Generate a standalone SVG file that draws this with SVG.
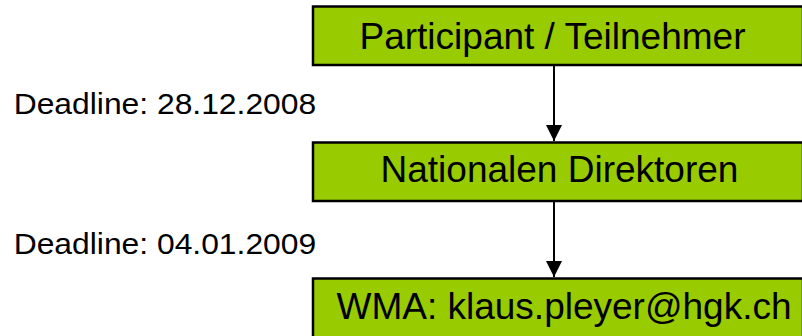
<svg xmlns="http://www.w3.org/2000/svg" width="802" height="336" viewBox="0 0 802 336">
<defs>
<style>
.box{fill:#99cc00;stroke:#000;stroke-width:2.5}
.lbl{font-family:"Liberation Sans",Arial,sans-serif;font-size:37px;fill:#000}
.dl{font-family:"Liberation Sans",Arial,sans-serif;font-size:30px;fill:#000}
.conn{stroke:#000;stroke-width:2;fill:none}
</style>
<marker id="arr" markerWidth="16" markerHeight="16" refX="16" refY="8" orient="auto" markerUnits="userSpaceOnUse">
<path d="M0,0 L16,8 L0,16 Z" fill="#000"/>
</marker>
</defs>
<rect width="802" height="336" fill="#fff"/>
<g id="participant">
<rect class="box" x="313" y="6.5" width="490" height="58.5"/>
<text class="lbl" x="359.5" y="49">Participant / Teilnehmer</text>
</g>
<g id="direktoren">
<rect class="box" x="313" y="142.5" width="490" height="58.5"/>
<text class="lbl" x="380.5" y="182">Nationalen Direktoren</text>
</g>
<g id="wma">
<rect class="box" x="313" y="278.5" width="490" height="70"/>
<text class="lbl" x="336.5" y="319">WMA: klaus.pleyer@hgk.ch</text>
</g>
<g id="deadlines">
<text class="dl" x="13.7" y="114.3" textLength="302.5" lengthAdjust="spacingAndGlyphs">Deadline: 28.12.2008</text>
<text class="dl" x="13.7" y="254.3" textLength="302.5" lengthAdjust="spacingAndGlyphs">Deadline: 04.01.2009</text>
</g>
<g id="connectors">
<line class="conn" x1="554" y1="65" x2="554" y2="141" marker-end="url(#arr)"/>
<line class="conn" x1="554" y1="201" x2="554" y2="277" marker-end="url(#arr)"/>
</g>
</svg>
